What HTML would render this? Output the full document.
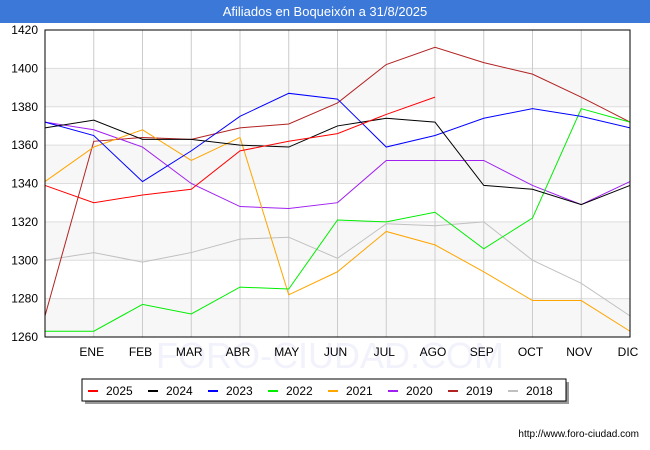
<!DOCTYPE html>
<html><head><meta charset="utf-8"><style>
body{margin:0;width:650px;height:450px;background:#fff;font-family:"Liberation Sans",sans-serif;overflow:hidden}
#title{position:absolute;left:0;top:0;width:650px;height:23px;background:#3b78d8;color:#fff;font-size:13px;text-align:center;line-height:23px}
</style></head><body>
<div id="title">Afiliados en Boqueixón a 31/8/2025</div>
<svg id="chart" width="650" height="450" style="position:absolute;left:0;top:0"></svg>
<script>
const months=["","ENE","FEB","MAR","ABR","MAY","JUN","JUL","AGO","SEP","OCT","NOV","DIC"];
const yTicks=[1260,1280,1300,1320,1340,1360,1380,1400,1420];
const seriesNames=["2025","2024","2023","2022","2021","2020","2019","2018"];
const seriesColors=["#ff0000","#000000","#0000ff","#00ee00","#ffa500","#a020f0","#b22222","#c0c0c0"];
const s2025=[1339,1330,1334,1337,1357,1362,1366,1376,1385];
const s2024=[1369,1373,1363,1363,1360,1359,1370,1374,1372,1339,1337,1329,1339];
const s2023=[1372,1365,1341,1357,1375,1387,1384,1359,1365,1374,1379,1375,1369];
const s2022=[1263,1263,1277,1272,1286,1285,1321,1320,1325,1306,1322,1379,1372];
const s2021=[1341,1359,1368,1352,1364,1282,1294,1315,1308,1294,1279,1279,1263];
const s2020=[1372,1368,1359,1340,1328,1327,1330,1352,1352,1352,1339,1329,1341];
const s2019=[1271,1362,1364,1363,1369,1371,1382,1402,1411,1403,1397,1385,1372];
const s2018=[1300,1304,1299,1304,1311,1312,1301,1319,1318,1320,1300,1288,1271];
const allSeries=[s2025,s2024,s2023,s2022,s2021,s2020,s2019,s2018];
const svg=document.getElementById('chart');const NS="http://www.w3.org/2000/svg";
const L=45,R=630,T=30,B=337,ymin=1260,ymax=1420;
const x=i=>L+i*(R-L)/12;const y=v=>B-(v-ymin)/(ymax-ymin)*(B-T);
function mk(t,a){const e=document.createElementNS(NS,t);for(const k in a)e.setAttribute(k,a[k]);svg.appendChild(e);return e;}
for(let i=0;i<yTicks.length-1;i+=2){const r=mk('rect',{x:L,y:y(yTicks[i+1]),width:R-L,height:y(yTicks[i])-y(yTicks[i+1]),fill:'#f7f7f7'});

}
yTicks.forEach(v=>{const l=mk('line',{x1:L,x2:R,y1:y(v),y2:y(v),stroke:'#ddd'});


const t=mk('text',{x:L-7,y:y(v)+4,'text-anchor':'end','font-size':12,fill:'#000'});t.textContent=v;

});
const wm=mk('text',{x:330,y:368,'text-anchor':'middle','font-size':36,fill:'#f1f2fb'});wm.textContent='FORO-CIUDAD.COM';


months.forEach((m,i)=>{if(i==0)return;const l=mk('line',{x1:x(i),x2:x(i),y1:T,y2:B,stroke:'#ccc'});


const t=mk('text',{x:x(i)-2,y:356,'text-anchor':'middle','font-size':12,fill:'#000'});t.textContent=m;

});
for(let s=allSeries.length-1;s>=0;s--){const p=mk('polyline',{points:allSeries[s].map((v,i)=>x(i)+','+y(v)).join(' '),fill:'none',stroke:seriesColors[s],'stroke-width':1});

}
const fr=mk('rect',{x:L,y:T,width:R-L,height:B-T,fill:'none',stroke:'#000'});


const sh=mk('rect',{x:85,y:382,width:484,height:22,fill:'#999'});


const lb=mk('rect',{x:82,y:379,width:484,height:22,fill:'#fff',stroke:'#000'});


seriesNames.forEach((n,i)=>{const lx=88+i*60;const l=mk('line',{x1:lx,x2:lx+10,y1:391,y2:391,stroke:seriesColors[i],'stroke-width':2});


const t=mk('text',{x:lx+18,y:395,'font-size':12,fill:'#000'});t.textContent=n;

});
const u=mk('text',{x:639,y:437,'text-anchor':'end','font-size':10,fill:'#000'});u.textContent='http://www.foro-ciudad.com';


</script>
</body></html>
